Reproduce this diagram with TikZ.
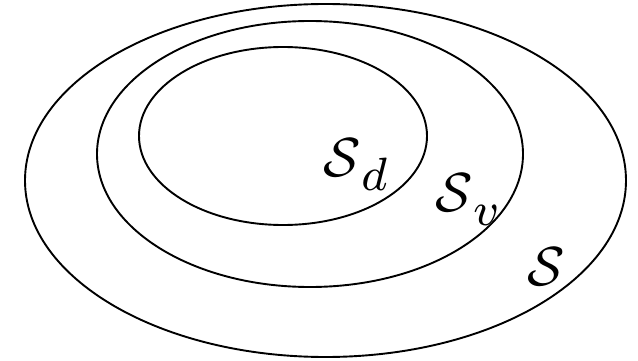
\documentclass[tikz,border=0pt]{standalone}
\usepackage{fix-cm}
\usepackage{amsmath}
\newcommand{\subidx}[1]{\raisebox{-2.6pt}{\fontsize{8.5}{9}\selectfont$#1$}}
\begin{document}
\begin{tikzpicture}[x=1pt, y=-1pt]
        \tikzset{set/.style={line width=1.9pt}, setlabel/.style={anchor=base west, inner sep=0pt, scale=5.5}}
        \useasboundingbox (0,0) rectangle (638,361);

        \draw[set] (325.5,180.5) ellipse [x radius=300.5, y radius=176.5];
        \draw[set] (310,154) ellipse [x radius=213, y radius=133];
        \draw[set] (283,136) ellipse [x radius=144, y radius=89];

        \node[setlabel] (lblSd) at (322,176) {$\mathcal{S}$\kern0.15pt\subidx{d}};
        \node[setlabel] (lblSv) at (434,211) {$\mathcal{S}$\kern0.15pt\subidx{v}};
        \node[setlabel] (lblS) at (526,285) {$\mathcal{S}$};
    \end{tikzpicture}
\end{document}
